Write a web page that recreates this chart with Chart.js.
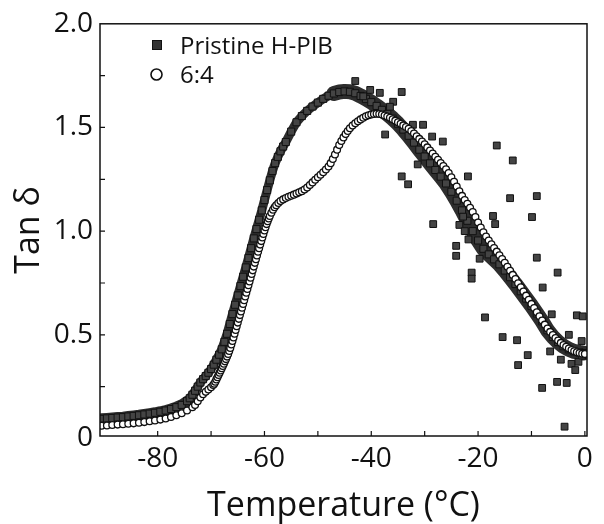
<!DOCTYPE html>
<html><head><meta charset="utf-8">
<script src="https://cdn.jsdelivr.net/npm/chart.js@4.4.1/dist/chart.umd.min.js"></script>
<style>html,body{margin:0;padding:0;background:#fff;}</style>
</head><body>
<canvas id="c" width="604" height="524" style="display:block;width:604px;height:524px"></canvas>
<script>
// ---- data ----
const seriesNames = ['Pristine H-PIB', '6:4'];

const pristineTemp = [
 -90.5,-89.5,-88.5,-87.5,-86.5,-85.5,-84.5,-83.5,-82.5,-81.5,
 -80.5,-79.5,-78.5,-77.5,-76.5,-75.5,-74.5,-74,-73.5,-73,
 -72.5,-72,-71.5,-71,-70.5,-70,-69.5,-69,-68.5,-68,
 -67.5,-67,-66.5,-66,-65.5,-65,-64.5,-64,-63.5,-63,
 -62.5,-62,-61.5,-61,-60.5,-60,-59.5,-59,-58.5,-58,
 -57.5,-57,-56.5,-56,-55,-54,-53,-52,-51,-50,
 -49,-48,-47,-46,-45,-44,-43,-42,-41,-40,
 -39,-38,-37,-36,-35,-34,-33,-32,-31,-30,
 -29,-28,-27,-26,-25,-24,-23,-22,-21,-20,
 -19,-18,-17,-16,-15,-14,-13,-12,-11,-10,
 -9,-8,-7,-6,-5,-4,-3,-2,-1,-0.2];
const pristineTan = [
 0.095,0.097,0.099,0.101,0.103,0.106,0.109,0.112,0.116,0.120,
 0.124,0.129,0.135,0.142,0.151,0.162,0.180,0.194,0.211,0.230,
 0.250,0.270,0.286,0.301,0.317,0.335,0.356,0.380,0.404,0.430,
 0.466,0.505,0.552,0.600,0.645,0.690,0.735,0.780,0.825,0.870,
 0.918,0.965,1.010,1.055,1.100,1.150,1.198,1.245,1.290,1.328,
 1.358,1.385,1.408,1.430,1.480,1.525,1.555,1.580,1.601,1.620,
 1.638,1.653,1.664,1.671,1.674,1.672,1.665,1.652,1.638,1.622,
 1.604,1.585,1.565,1.543,1.518,1.490,1.460,1.427,1.393,1.360,
 1.327,1.295,1.263,1.230,1.190,1.147,1.100,1.050,1.000,0.955,
 0.915,0.888,0.864,0.840,0.810,0.778,0.745,0.710,0.675,0.640,
 0.603,0.565,0.522,0.490,0.465,0.445,0.430,0.420,0.415,0.412];

// scattered (noisy) points of the pristine sample
const pristineNoiseTemp = [
 -43.0,-40.2,-38.4,-34.3,-35.9,-37.4,-30.3,-32.2,-28.6,-26.6,
 -16.5,-13.5,-34.3,-33.1,-31.3,-21.9,-14.0,-9.0,-9.9,-17.2,
 -16.8,-28.4,-24.1,-24.1,-9.0,-19.7,-21.2,-21.2,-5.1,-7.9,
 -18.7,-6.2,-1.5,-0.4,-15.4,-12.7,-10.7,-12.5,-8.0,-5.2,
 -3.4,-3.8,-2.5,-1.2,-0.5,-4.5,-6.5,-1.8,-0.6,-3.0,
 -23.5,-22.5,-21.8,-22.8,-41.5,-36.5];
const pristineNoiseTan = [
 1.724,1.681,1.667,1.671,1.624,1.466,1.513,1.513,1.456,1.432,
 1.413,1.341,1.264,1.226,1.322,1.264,1.159,1.169,1.068,1.073,
 1.034,1.034,0.929,0.881,0.872,0.867,0.800,0.771,0.800,0.728,
 0.584,0.599,0.594,0.589,0.489,0.474,0.402,0.354,0.244,0.273,
 0.268,0.057,0.360,0.370,0.400,0.380,0.420,0.330,0.470,0.500,
 1.030,1.000,0.960,1.070,1.650,1.600];

const blendTemp = [
 -90.5,-89.5,-88.5,-87.5,-86.5,-85.5,-84.5,-83.5,-82.5,-81.5,
 -80.5,-79.5,-78.5,-77.5,-76.5,-75.5,-74.5,-73.5,-73,-72.5,
 -72,-71.5,-71,-70.5,-70,-69.6,-69.4,-69.2,-69.0,-68.8,
 -68.6,-68.4,-68.2,-68.0,-67.8,-67.6,-67.4,-67.2,-67.0,-66.8,
 -66.6,-66.4,-66.2,-66.0,-65.8,-65.6,-65.4,-65.2,-65.0,-64.8,
 -64.6,-64.4,-64.2,-64.0,-63.8,-63.6,-63.4,-63.2,-63.0,-62.8,
 -62.6,-62.4,-62.2,-62.0,-61.8,-61.6,-61.4,-61.2,-61.0,-60.8,
 -60.6,-60.4,-60.2,-60.0,-59.8,-59.6,-59.4,-59.2,-59.0,-58.7,
 -58.4,-58.1,-57.8,-57.4,-57.0,-56.5,-56.0,-55.5,-55.0,-54.5,
 -54.0,-53.5,-53.0,-52.5,-52.0,-51.5,-51.0,-50.5,-50.0,-49.5,
 -49.0,-48.5,-48.0,-47.6,-47.2,-46.8,-46.4,-46.0,-45.6,-45.2,
 -44.8,-44.4,-44.0,-43.5,-43.0,-42.5,-42.0,-41.5,-41.0,-40.5,
 -40.0,-39.5,-39.0,-38.5,-38.0,-37.5,-37.0,-36.5,-36.0,-35.5,
 -35.0,-34.5,-34.0,-33.5,-33.0,-32.5,-32.0,-31.5,-31.0,-30.5,
 -30.0,-29.5,-29.0,-28.5,-28.0,-27.5,-27.0,-26.5,-26.0,-25.5,
 -25.0,-24.5,-24.0,-23.5,-23.0,-22.5,-22.0,-21.5,-21.0,-20.5,
 -20.0,-19.5,-19.0,-18.5,-18.0,-17.5,-17.0,-16.5,-16.0,-15.5,
 -15.0,-14.5,-14.0,-13.5,-13.0,-12.5,-12.0,-11.5,-11.0,-10.5,
 -10.0,-9.5,-9.0,-8.5,-8.0,-7.5,-7.0,-6.5,-6.0,-5.5,
 -5.0,-4.5,-4.0,-3.5,-3.0,-2.5,-2.0,-1.5,-1.0,-0.5,0.0];
const blendTan = [
 0.062,0.063,0.065,0.067,0.069,0.071,0.073,0.076,0.079,0.083,
 0.087,0.091,0.097,0.104,0.112,0.122,0.135,0.151,0.162,0.180,
 0.198,0.213,0.225,0.236,0.247,0.258,0.264,0.274,0.285,0.295,
 0.306,0.317,0.328,0.339,0.350,0.361,0.372,0.383,0.395,0.408,
 0.422,0.437,0.453,0.470,0.487,0.505,0.523,0.541,0.559,0.577,
 0.595,0.613,0.631,0.649,0.667,0.685,0.703,0.721,0.739,0.757,
 0.775,0.793,0.811,0.829,0.847,0.865,0.883,0.901,0.918,0.935,
 0.952,0.969,0.986,1.003,1.019,1.034,1.048,1.061,1.073,1.089,
 1.103,1.115,1.125,1.136,1.145,1.153,1.160,1.166,1.171,1.176,
 1.181,1.187,1.193,1.201,1.210,1.222,1.235,1.248,1.260,1.272,
 1.284,1.297,1.312,1.328,1.348,1.370,1.393,1.415,1.435,1.452,
 1.468,1.483,1.496,1.509,1.520,1.530,1.539,1.547,1.554,1.559,
 1.563,1.565,1.566,1.565,1.562,1.558,1.553,1.547,1.540,1.533,
 1.525,1.518,1.510,1.502,1.494,1.483,1.471,1.458,1.445,1.432,
 1.419,1.404,1.389,1.374,1.359,1.344,1.329,1.314,1.298,1.280,
 1.260,1.238,1.215,1.192,1.170,1.150,1.132,1.113,1.092,1.068,
 1.042,1.017,0.995,0.974,0.955,0.937,0.919,0.901,0.884,0.866,
 0.847,0.828,0.809,0.789,0.769,0.749,0.729,0.709,0.689,0.669,
 0.649,0.629,0.609,0.589,0.569,0.549,0.530,0.514,0.499,0.485,
 0.472,0.461,0.451,0.442,0.434,0.427,0.421,0.416,0.412,0.409,0.407];

const xTickValues = [-80,-70,-60,-50,-40,-30,-20,-10,0];
const xLabelTicks = [-80,-60,-40,-20,0];
const yTickValues = [0,0.25,0.5,0.75,1.0,1.25,1.5,1.75,2.0];
const yLabelTicks = [0,0.5,1.0,1.5,2.0];
const yLabelText  = ['0','0.5','1.0','1.5','2.0'];
const xTitle = 'Temperature (\u00B0C)';
const yTitle = 'Tan \u03B4';

// ---- chart ----
const FONT = "'Open Sans', 'Noto Sans', sans-serif";
const toXY = (xs, ys) => xs.map((t, i) => ({x: t, y: ys[i]}));

const frameAndLegend = {
  id: 'frameAndLegend',
  afterDraw(chart) {
    const {ctx, chartArea: a, scales: {x, y}} = chart;
    ctx.save();
    ctx.strokeStyle = '#111';
    ctx.lineWidth = 1.5;
    ctx.strokeRect(a.left, a.top, a.right - a.left, a.bottom - a.top);
    ctx.lineWidth = 1.2;
    ctx.beginPath();
    xTickValues.forEach(v => {
      const px = x.getPixelForValue(v);
      if (px <= a.left + 1 || px >= a.right - 1) return;
      ctx.moveTo(px, a.bottom); ctx.lineTo(px, a.bottom - 5);
    });
    yTickValues.forEach(v => {
      const py = y.getPixelForValue(v);
      if (py <= a.top + 1 || py >= a.bottom - 1) return;
      ctx.moveTo(a.left, py); ctx.lineTo(a.left + 5, py);
    });
    ctx.stroke();
    // legend inside the plot
    ctx.fillStyle = '#333';
    ctx.strokeStyle = '#111';
    ctx.lineWidth = 1;
    ctx.fillRect(152.5, 40.5, 9, 9);
    ctx.strokeRect(152.5, 40.5, 9, 9);
    ctx.beginPath();
    ctx.arc(156.5, 74.5, 5.5, 0, Math.PI * 2);
    ctx.fillStyle = '#fff'; ctx.fill();
    ctx.lineWidth = 1.6; ctx.stroke();
    ctx.fillStyle = '#111';
    ctx.font = '24px ' + FONT;
    ctx.textBaseline = 'middle';
    ctx.textAlign = 'left';
    ctx.fillText(seriesNames[0], 180, 47.5);
    ctx.fillText(seriesNames[1], 180, 76);
    ctx.restore();
  }
};

new Chart(document.getElementById('c'), {
  type: 'scatter',
  data: {
    datasets: [
      {
        label: seriesNames[0],
        data: toXY(pristineTemp, pristineTan),
        showLine: true,
        borderColor: '#2e2e2e',
        borderWidth: 10,
        segment: {
          borderWidth: c => (c.p0.parsed.x >= -47 ? 15 : (c.p0.parsed.x < -75 ? 11 : 9))
        },
        borderJoinStyle: 'round',
        borderCapStyle: 'round',
        pointStyle: 'rect',
        pointRadius: 5,
        pointBackgroundColor: '#444',
        pointBorderColor: '#111',
        pointBorderWidth: 1,
        order: 3
      },
      {
        label: seriesNames[0] + ' scatter',
        data: toXY(pristineNoiseTemp, pristineNoiseTan),
        showLine: false,
        pointStyle: 'rect',
        pointRadius: 4.8,
        pointBackgroundColor: '#444',
        pointBorderColor: '#111',
        pointBorderWidth: 1,
        order: 2
      },
      {
        label: seriesNames[1],
        data: toXY(blendTemp, blendTan),
        showLine: false,
        pointStyle: 'circle',
        pointRadius: 3.4,
        pointBackgroundColor: '#fff',
        pointBorderColor: '#111',
        pointBorderWidth: 1.3,
        order: 1
      }
    ]
  },
  options: {
    responsive: false,
    devicePixelRatio: 1,
    animation: false,
    events: [],
    layout: {padding: {top: 21, right: 17, left: 0, bottom: 0}},
    plugins: {legend: {display: false}, tooltip: {enabled: false}},
    scales: {
      x: {
        type: 'linear',
        min: -90.8, max: 0.4,
        afterBuildTicks: s => { s.ticks = xTickValues.map(v => ({value: v})); },
        afterFit: s => { s.height = 88; },
        grid: {display: false, drawTicks: false},
        border: {display: false},
        ticks: {
          autoSkip: false, maxRotation: 0, padding: 6, color: '#111',
          font: {family: FONT, size: 28},
          callback: v => xLabelTicks.includes(v) ? String(v) : ''
        },
        title: {display: true, text: xTitle, color: '#111',
          font: {family: FONT, size: 34, lineHeight: 1.0}, padding: {top: 0, bottom: 1}}
      },
      y: {
        type: 'linear',
        min: 0.012, max: 2.0,
        afterBuildTicks: s => { s.ticks = yTickValues.map(v => ({value: v})); },
        afterFit: s => { s.width = 100; },
        grid: {display: false, drawTicks: false},
        border: {display: false},
        ticks: {
          autoSkip: false, padding: 7, color: '#111',
          font: {family: FONT, size: 28},
          callback: v => { const i = yLabelTicks.indexOf(v); return i >= 0 ? yLabelText[i] : ''; }
        },
        title: {display: true, text: yTitle, color: '#111',
          font: {family: FONT, size: 34}, padding: {top: 9, bottom: 0}}
      }
    }
  },
  plugins: [frameAndLegend]
});
</script>
</body></html>
